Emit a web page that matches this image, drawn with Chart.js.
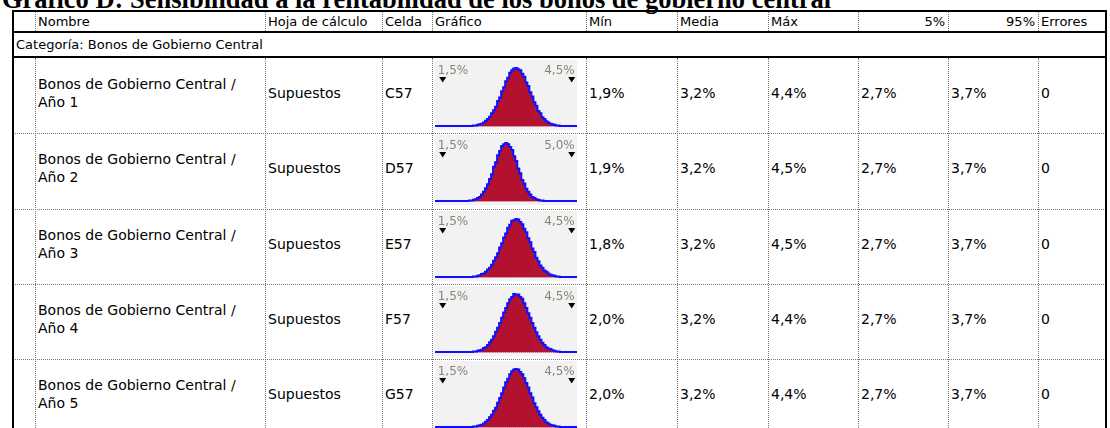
<!DOCTYPE html>
<html>
<head>
<meta charset="utf-8">
<script src="https://cdn.jsdelivr.net/npm/chart.js@4.4.1/dist/chart.umd.min.js"></script>
<style>
  html, body { margin: 0; padding: 0; background: #fff; }
  body { width: 1110px; height: 428px; overflow: hidden; position: relative;
         font-family: "DejaVu Sans", sans-serif; color: #000; }
  #title { position: absolute; left: 2px; top: -14px; white-space: nowrap;
           font: bold 26.5px/26.5px "Liberation Serif", "Times New Roman", serif; }
  .cell { position: absolute; display: flex; align-items: center; box-sizing: border-box;
          padding-left: 3px; white-space: nowrap; }
  .head { font-size: 13px; }
  .cat  { font-size: 13px; }
  .data { font-size: 14px; line-height: 18px; padding-bottom: 6px; }
  .right { justify-content: flex-end; padding-right: 3px; }
  .hl { position: absolute; height: 0; }
  .vl { position: absolute; width: 0; }
  .thick-h { border-top: 2px solid #000; }
  .thick-v { border-left: 2px solid #000; }
  .dot-h { border-top: 1px dotted #777; }
  .dot-v { border-left: 1px dotted #777; }
  canvas.spark { position: absolute; background: #f2f2f2; }
</style>
</head>
<body>
<div id="title">Gráfico D: Sensibilidad a la rentabilidad de los bonos de gobierno central</div>
<script>
// ---- table content ----
const headers = ["", "Nombre", "Hoja de cálculo", "Celda", "Gráfico", "Mín", "Media", "Máx", "5%", "95%", "Errores"];
const category = "Categoría: Bonos de Gobierno Central";
const nameLines = [
  ["Bonos de Gobierno Central /", "Año 1"],
  ["Bonos de Gobierno Central /", "Año 2"],
  ["Bonos de Gobierno Central /", "Año 3"],
  ["Bonos de Gobierno Central /", "Año 4"],
  ["Bonos de Gobierno Central /", "Año 5"]
];
const sheets = ["Supuestos", "Supuestos", "Supuestos", "Supuestos", "Supuestos"];
const cellRefs = ["C57", "D57", "E57", "F57", "G57"];
const minVals  = [1.9, 1.9, 1.8, 2.0, 2.0];
const meanVals = [3.2, 3.2, 3.2, 3.2, 3.2];
const maxVals  = [4.4, 4.5, 4.5, 4.4, 4.4];
const p5Vals   = [2.7, 2.7, 2.7, 2.7, 2.7];
const p95Vals  = [3.7, 3.7, 3.7, 3.7, 3.7];
const errors   = [0, 0, 0, 0, 0];

// display range of each sparkline (marker labels)
const rangeLo = [1.5, 1.5, 1.5, 1.5, 1.5];
const rangeHi = [4.5, 5.0, 4.5, 4.5, 4.5];

// histogram frequencies, 64 equal bins spanning rangeLo..rangeHi
const hist1 = [0,0,0,0,0,0,0,0,0,0,0,0,0,0,0,1,1,2,3,4,6,9,12,16,22,27,33,43,49,60,67,77,83,92,96,99,100,98,96,90,85,75,69,58,51,41,35,26,22,15,12,8,6,4,3,2,1,1,0,0,0,0,0,0];
const hist2 = [0,0,0,0,0,0,0,0,0,0,0,0,0,1,1,2,3,5,7,11,16,22,29,38,46,59,67,79,86,95,98,100,98,93,88,77,69,56,48,36,30,21,16,11,7,5,3,2,1,1,0,0,0,0,0,0,0,0,0,0,0,0,0,0];
const hist3 = [0,0,0,0,0,0,0,0,0,0,0,0,0,0,0,1,1,2,3,5,6,9,13,16,21,28,34,41,51,58,68,75,85,90,97,98,100,99,95,91,83,77,67,60,49,43,33,27,20,16,11,9,6,4,3,2,1,1,0,0,0,0,0,0];
const hist4 = [0,0,0,0,0,0,0,0,0,0,0,0,0,0,0,1,1,2,3,4,7,8,12,17,21,27,35,42,50,59,68,76,84,91,95,100,99,99,95,92,84,76,67,59,50,42,34,27,21,16,12,8,6,5,3,2,1,1,0,0,0,0,0,0];
const hist5 = [0,0,0,0,0,0,0,0,0,0,0,0,0,0,0,1,1,2,3,4,6,9,12,17,21,28,33,42,50,58,68,77,83,91,96,99,100,99,95,91,84,76,68,58,51,41,34,27,21,16,12,8,6,4,3,2,1,1,0,0,0,0,0,0];
const histograms = [hist1, hist2, hist3, hist4, hist5];

// ---- layout ----
const COL = [13, 35, 265, 382, 432, 586, 677, 768, 858, 948, 1038, 1106];
const Y_TOP = 12, Y_CAT = 33, Y_ROWS = 58, ROW_STEP = 75.3, Y_END = 430;
const RIGHT_ALIGNED = [8, 9];
const rowTop = r => Math.round(Y_ROWS + r * ROW_STEP);

const fmt = v => v.toFixed(1).replace(".", ",") + "%";

function el(cls, css, html) {
  const d = document.createElement("div");
  d.className = cls;
  Object.assign(d.style, css);
  if (html !== undefined) d.innerHTML = html;
  document.body.appendChild(d);
  return d;
}
const hline = (cls, x1, x2, y) => el("hl " + cls, { left: x1 + "px", width: (x2 - x1) + "px", top: y + "px" });
const vline = (cls, x, y1, y2) => el("vl " + cls, { left: x + "px", top: y1 + "px", height: (y2 - y1) + "px" });

// header cells
for (let c = 0; c < headers.length; c++) {
  el("cell head" + (RIGHT_ALIGNED.includes(c) ? " right" : ""),
     { left: COL[c] + "px", width: (COL[c + 1] - COL[c]) + "px", top: Y_TOP + "px", height: (Y_CAT - 2 - Y_TOP) + "px" },
     headers[c]);
}
// category row
el("cell cat", { left: COL[0] + "px", width: (COL[11] - COL[0]) + "px", top: Y_CAT + "px", height: (Y_ROWS - 2 - Y_CAT) + "px" }, category);

// data rows
for (let r = 0; r < nameLines.length; r++) {
  const top = rowTop(r), h = rowTop(r + 1) - top;
  const texts = [
    "", nameLines[r].join("<br>"), sheets[r], cellRefs[r], "",
    fmt(minVals[r]), fmt(meanVals[r]), fmt(maxVals[r]), fmt(p5Vals[r]), fmt(p95Vals[r]), String(errors[r])
  ];
  for (let c = 0; c < texts.length; c++) {
    if (!texts[c]) continue;
    el("cell data", { left: COL[c] + "px", width: (COL[c + 1] - COL[c]) + "px", top: top + "px", height: h + "px" }, texts[c]);
  }
}

// grid lines
for (let c = 1; c < COL.length - 1; c++) {
  vline("dot-v", COL[c], Y_TOP, Y_CAT - 2);
  vline("dot-v", COL[c], Y_ROWS, Y_END);
}
for (let r = 1; r < nameLines.length; r++) hline("dot-h", COL[0], COL[11], rowTop(r));
hline("thick-h", COL[0] - 1, COL[11] + 1, Y_TOP - 2);
hline("thick-h", COL[0] - 1, COL[11] + 1, Y_CAT - 2);
hline("thick-h", COL[0] - 1, COL[11] + 1, Y_ROWS - 2);
vline("thick-v", COL[0] - 1, Y_TOP - 2, Y_END);
vline("thick-v", COL[11] - 1, Y_TOP - 2, Y_END);

// ---- sparklines ----
const SPARK_W = 142, SPARK_H = 70;

// marker labels and triangles at the ends of the display range
const rangeMarkers = {
  id: "rangeMarkers",
  afterDatasetsDraw(chart, args, opts) {
    const { ctx, scales: { x } } = chart;
    const xl = x.getPixelForValue(opts.lo), xh = x.getPixelForValue(opts.hi);
    ctx.save();
    ctx.font = '12px "DejaVu Sans", sans-serif';
    ctx.fillStyle = "#8c8274";
    ctx.textBaseline = "alphabetic";
    ctx.textAlign = "left";
    ctx.fillText(fmt(opts.lo), xl - 5, 13.5);
    ctx.textAlign = "right";
    ctx.fillText(fmt(opts.hi), xh + 3, 13.5);
    ctx.fillStyle = "#000";
    for (const px of [xl, xh]) {
      ctx.beginPath();
      ctx.moveTo(px - 3.5, 17);
      ctx.lineTo(px + 3.5, 17);
      ctx.lineTo(px, 22.5);
      ctx.closePath();
      ctx.fill();
    }
    ctx.restore();
  }
};

for (let r = 0; r < histograms.length; r++) {
  const lo = rangeLo[r], hi = rangeHi[r], span = hi - lo;
  const counts = histograms[r];
  const w = span / counts.length;
  const xMin = lo - span * 0.0597, xMax = hi + span * 0.0411;
  const bars = counts.map((v, i) => ({ x: lo + (i + 0.5) * w, y: v }));
  const outline = [{ x: xMin, y: 0 }, ...bars, { x: xMax, y: 0 }];

  const cv = document.createElement("canvas");
  cv.className = "spark";
  cv.width = SPARK_W; cv.height = SPARK_H;
  Object.assign(cv.style, {
    left: (COL[4] + 3) + "px",
    top: (rowTop(r) + 2) + "px",
    width: SPARK_W + "px", height: SPARK_H + "px"
  });
  document.body.appendChild(cv);

  new Chart(cv, {
    type: "bar",
    data: {
      datasets: [
        { type: "line", data: outline, borderColor: "#1010ff", borderWidth: 2,
          pointRadius: 0, stepped: "middle", fill: false, order: 0 },
        { type: "bar", data: bars, backgroundColor: "#b2112f", borderWidth: 0,
          barPercentage: 1, categoryPercentage: 1, order: 1 }
      ]
    },
    options: {
      responsive: false, animation: false, events: [],
      layout: { padding: 0 },
      plugins: { legend: { display: false }, tooltip: { enabled: false },
                 rangeMarkers: { lo: lo, hi: hi } },
      scales: {
        x: { type: "linear", display: false, min: xMin, max: xMax, offset: false },
        y: { display: false, min: -6.9, max: 113.8 }
      }
    },
    plugins: [rangeMarkers]
  });
}
</script>
</body>
</html>
